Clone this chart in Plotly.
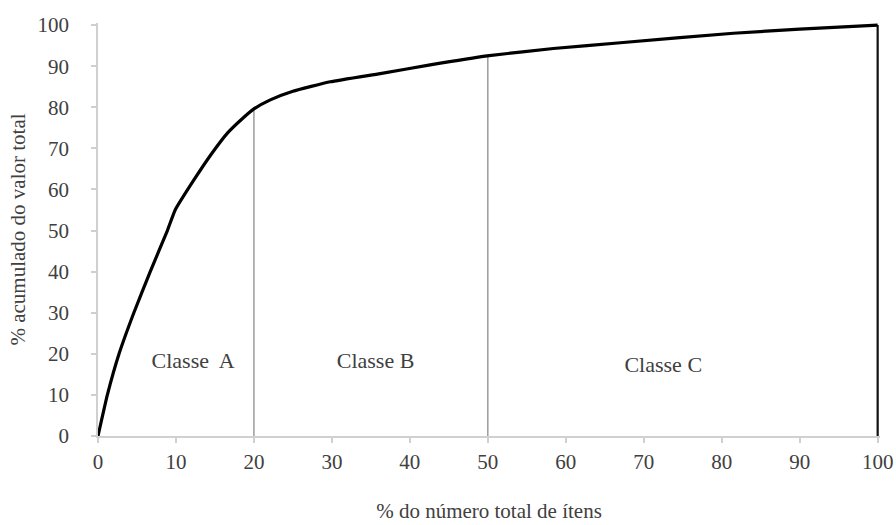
import plotly.graph_objects as go

# Cumulative ABC (Pareto) curve
pct_items = [0, 1.2, 2.7, 4.6, 6.7, 8.9, 9.9, 12.3, 14.5, 16.6, 18.5, 20.0, 22.1,
             25.0, 29.8, 36.2, 42.6, 49.9, 58.4, 67.0, 81.5, 90.0, 100.0]
pct_value = [0, 10, 20, 30, 40, 50, 55, 62.3, 68.5, 73.7, 77.2, 79.6, 81.8,
             83.9, 86.2, 88.2, 90.3, 92.5, 94.3, 95.7, 98.0, 99.0, 100.0]

# Class boundaries
boundary_x = [20, 50, 100]
boundary_y = [80, 92.5, 100]

class_labels = ["Classe  A", "Classe B", "Classe C"]
class_label_x = [12.2, 35.6, 72.5]
class_label_y = [18.0, 18.0, 16.9]

tick_vals = list(range(0, 101, 10))
tick_text = [str(v) for v in tick_vals]

FONT = "Liberation Serif, Times New Roman, serif"
TXT = "#404040"

fig = go.Figure()

for i, (bx, by) in enumerate(zip(boundary_x, boundary_y)):
    last = i == len(boundary_x) - 1
    fig.add_trace(go.Scatter(
        x=[bx, bx], y=[0, by], mode="lines",
        line=dict(color="#111111" if last else "#8c8c8c", width=2.2 if last else 1.3),
        hoverinfo="skip", showlegend=False))

fig.add_trace(go.Scatter(
    x=pct_items, y=pct_value, mode="lines",
    line=dict(color="black", width=3.2, shape="spline", smoothing=0.4),
    showlegend=False))

fig.add_trace(go.Scatter(
    x=class_label_x, y=class_label_y, mode="text", text=class_labels,
    textfont=dict(family=FONT, size=22, color=TXT),
    hoverinfo="skip", showlegend=False))

axis_common = dict(
    showgrid=False, zeroline=False, showline=True, linecolor="#d0d0d0", linewidth=1.5,
    ticks="outside", ticklen=5, tickcolor="#d0d0d0", tickwidth=1.5,
    tickvals=tick_vals, ticktext=tick_text, automargin=False,
    tickfont=dict(family=FONT, size=21, color=TXT),
)

fig.update_layout(
    width=896, height=525,
    margin=dict(l=97.5, r=15.7, t=23, b=89),
    plot_bgcolor="white", paper_bgcolor="white",
    xaxis=dict(range=[0, 100.3], ticklabelstandoff=1,
               title=dict(text="% do número total de ítens",
                          font=dict(family=FONT, size=21, color=TXT), standoff=30),
               **axis_common),
    yaxis=dict(range=[0, 100.5], ticklabelstandoff=18,
               title=dict(text="% acumulado do valor total",
                          font=dict(family=FONT, size=21, color=TXT), standoff=6),
               **axis_common),
)

# Remove the default page margin so the 896x525 figure fills the window exactly.
fig.write_html(
    "out.html",
    config={"displayModeBar": False},
    post_script="document.body.style.margin='0';document.body.style.overflow='hidden';",
)
